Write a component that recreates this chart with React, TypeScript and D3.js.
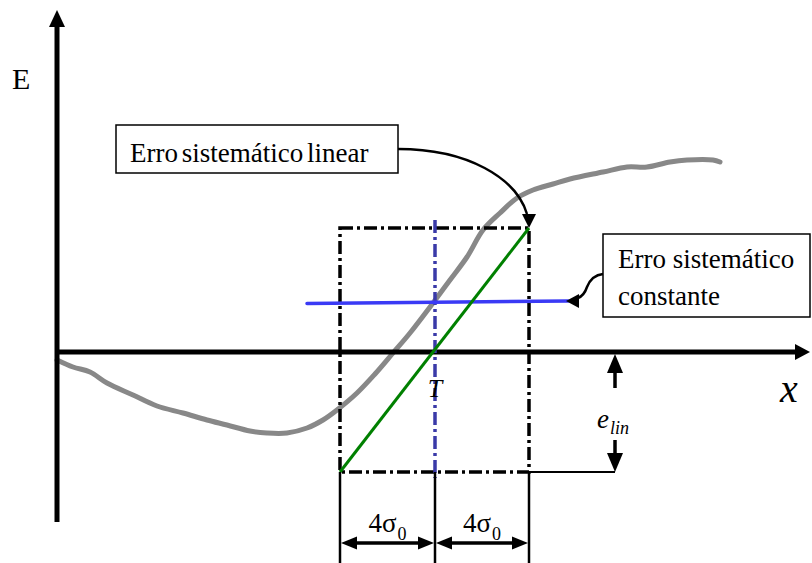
import React from "react";
import * as d3 from "d3";

// Data (x: distance from the E axis, y: E value above the x axis; diagram units)
const curveX = [0, 16, 33, 50, 76, 100, 126, 150, 170, 193, 210, 230, 250, 266, 280, 300, 318, 336, 353, 376, 393, 410, 426, 443, 460, 476, 496, 513, 546, 570, 590, 613, 630, 656, 663];
const curveY = [-8, -15, -20, -31, -43, -54, -61, -68, -73, -79, -81, -81, -76, -68, -58, -41, -22, -1, 19, 49, 72, 95, 122, 139, 154, 162, 168, 173, 180, 185, 185, 190, 192, 192, 190];

const boxX = [283, 472]; // T - 4σ0, T + 4σ0
const targetT = 378;
const boxY = [-120, 124];
const linearErrX = [283, 472];
const linearErrY = [-120, 124];
const constErrX = [250, 511];
const constErrY = [48.5, 51];
const eLinX = 558;

const labels = {
  E: "E",
  x: "x",
  T: "T",
  linear: "Erro sistemático linear",
  const1: "Erro sistemático",
  const2: "constante",
};

const W = 812;
const H = 563;
const xS = d3.scaleLinear().domain([0, 751]).range([57, 808]);
const yS = d3.scaleLinear().domain([0, 342]).range([352, 10]);

function head(tx: number, ty: number, dir: "up" | "down" | "left" | "right", len: number, hw: number) {
  const p = d3.path();
  p.moveTo(tx, ty);
  if (dir === "up") { p.lineTo(tx - hw, ty + len); p.lineTo(tx + hw, ty + len); }
  if (dir === "down") { p.lineTo(tx - hw, ty - len); p.lineTo(tx + hw, ty - len); }
  if (dir === "left") { p.lineTo(tx + len, ty - hw); p.lineTo(tx + len, ty + hw); }
  if (dir === "right") { p.lineTo(tx - len, ty - hw); p.lineTo(tx - len, ty + hw); }
  p.closePath();
  return p.toString();
}

const ts = { fontFamily: '"Liberation Serif"' } as React.CSSProperties;

export default function App() {
  const pts: [number, number][] = curveX.map((v, i) => [xS(v), yS(curveY[i])]);
  const curvePath = d3.line().curve(d3.curveCatmullRom)(pts) || "";

  const x0 = xS(0);
  const y0 = yS(0);
  const bL = xS(boxX[0]);
  const bR = xS(boxX[1]);
  const bT = yS(boxY[1]);
  const bB = yS(boxY[0]);
  const tX = xS(targetT);
  const eX = xS(eLinX);
  const dimY = 543;
  const dash = "13,4,3,4";

  const cL = [xS(constErrX[0]), yS(constErrY[0])];
  const cR = [xS(constErrX[1]), yS(constErrY[1])];

  return (
    <svg width={W} height={H} style={{ position: "absolute", left: 0, top: 0, display: "block", background: "#fff" }}>
      {/* gray error curve */}
      <path d={curvePath} fill="none" stroke="#888" strokeWidth={5} strokeLinecap="round" strokeLinejoin="round" />

      {/* axes */}
      <line x1={x0} y1={522} x2={x0} y2={26} stroke="#000" strokeWidth={5} />
      <path d={head(x0, 10, "up", 17, 8)} fill="#000" />
      <line x1={55} y1={y0} x2={796} y2={y0} stroke="#000" strokeWidth={5} />
      <path d={head(810, y0, "right", 15, 8)} fill="#000" />
      <text x={12} y={89} fontSize={30} style={ts}>{labels.E}</text>
      <text x={780} y={402} fontSize={40} fontStyle="italic" style={ts}>{labels.x}</text>

      {/* dash-dot box */}
      <rect x={bL} y={bT} width={bR - bL} height={bB - bT} fill="none" stroke="#000" strokeWidth={3.5} strokeDasharray={dash} />
      {/* target T line */}
      <line x1={tX} y1={220} x2={tX} y2={478} stroke="#3a3aa8" strokeWidth={3.5} strokeDasharray={dash} />

      {/* constant error */}
      <line x1={cL[0]} y1={cL[1]} x2={cR[0]} y2={cR[1]} stroke="#3a3af5" strokeWidth={3.5} strokeLinecap="round" />
      {/* linear error */}
      <line x1={xS(linearErrX[0])} y1={yS(linearErrY[0])} x2={xS(linearErrX[1])} y2={yS(linearErrY[1])} stroke="#008000" strokeWidth={3} />

      {/* T label */}
      <text x={tX} y={397} fontSize={26} fontStyle="italic" textAnchor="middle" style={ts}>{labels.T}</text>

      {/* e_lin */}
      <line x1={bR} y1={bB} x2={eX} y2={bB} stroke="#000" strokeWidth={2} />
      <line x1={eX} y1={388} x2={eX} y2={368} stroke="#000" strokeWidth={3.5} />
      <path d={head(eX, y0 + 2, "up", 19, 8)} fill="#000" />
      <line x1={eX} y1={440} x2={eX} y2={458} stroke="#000" strokeWidth={3.5} />
      <path d={head(eX, bB, "down", 19, 8)} fill="#000" />
      <text x={597} y={428} fontSize={27} fontStyle="italic" style={ts}>e</text>
      <text x={610} y={434} fontSize={18} fontStyle="italic" style={ts}>lin</text>

      {/* dimension lines */}
      {[bL, tX, bR].map((v, i) => (
        <line key={i} x1={v} y1={bB} x2={v} y2={H} stroke="#000" strokeWidth={2.5} />
      ))}
      {[[bL, tX], [tX, bR]].map(([a, b], i) => (
        <g key={i}>
          <line x1={a + 10} y1={dimY} x2={b - 10} y2={dimY} stroke="#000" strokeWidth={3.5} />
          <path d={head(a + 1, dimY, "left", 16, 6.5)} fill="#000" />
          <path d={head(b - 1, dimY, "right", 16, 6.5)} fill="#000" />
          <text x={(a + b) / 2 - 19} y={532} fontSize={27} style={ts}>4σ</text>
          <text x={(a + b) / 2 + 10} y={540} fontSize={18} style={ts}>0</text>
        </g>
      ))}

      {/* callout: linear */}
      <rect x={116} y={125} width={282} height={48} fill="#fff" stroke="#000" strokeWidth={1.5} />
      <text x={130} y={162} fontSize={27} wordSpacing={-3} style={ts}>{labels.linear}</text>
      <path d="M398,149 C468,149 516,178 527,214" fill="none" stroke="#000" strokeWidth={2.5} />
      <path d={head(bR, bT, "down", 14, 7)} fill="#000" />

      {/* callout: constant */}
      <rect x={603} y={234} width={207} height={83} fill="#fff" stroke="#000" strokeWidth={1.5} />
      <text x={618} y={268} fontSize={27} style={ts}>{labels.const1}</text>
      <text x={618} y={305} fontSize={27} style={ts}>{labels.const2}</text>
      <path d="M603,274 C593,275 589,282 587,287 C585,293 583,296 578,298" fill="none" stroke="#000" strokeWidth={2.5} />
      <path d={head(cR[0] - 2, cR[1], "left", 13, 7)} fill="#000" />
    </svg>
  );
}
